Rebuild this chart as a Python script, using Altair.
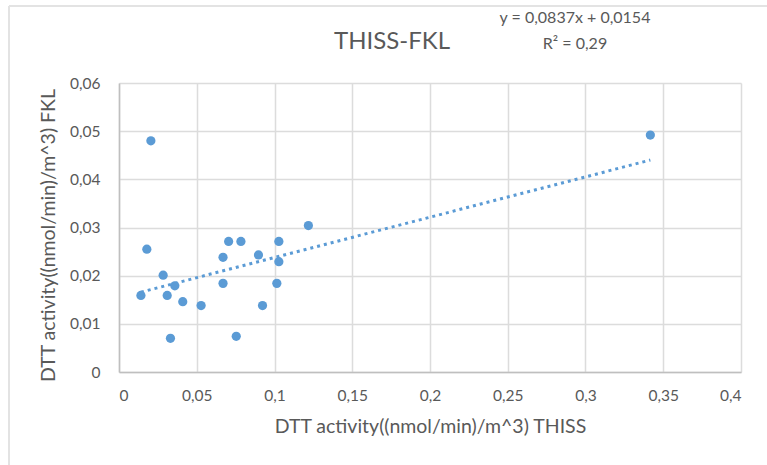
import altair as alt
import pandas as pd

thiss = [0.0205, 0.0179, 0.0284, 0.0359, 0.0141, 0.0310, 0.0410, 0.0528, 0.0331,
         0.0669, 0.0705, 0.0784, 0.0669, 0.0897, 0.1028, 0.1028, 0.1015, 0.0923,
         0.0754, 0.1218, 0.3417]
fkl = [0.0480, 0.0255, 0.0201, 0.0179, 0.0159, 0.0159, 0.0146, 0.0138, 0.0070,
       0.0238, 0.0271, 0.0271, 0.0184, 0.0243, 0.0271, 0.0229, 0.0184, 0.0138,
       0.0074, 0.0304, 0.0492]
slope = 0.0837
intercept = 0.0154
x_ticks = [0, 0.05, 0.1, 0.15, 0.2, 0.25, 0.3, 0.35, 0.4]
y_ticks = [0, 0.01, 0.02, 0.03, 0.04, 0.05, 0.06]

df = pd.DataFrame({"x": thiss, "y": fkl})
trend = pd.DataFrame({"x": [min(thiss), max(thiss)]})
trend["y"] = slope * trend["x"] + intercept

FONT = "Lato"
GREY = "#595959"
BLUE = "#5B9BD5"
lab = "replace(format(datum.value, '~g'), '.', ',')"

xs = alt.Scale(domain=[0, 0.4], nice=False, zero=False)
ys = alt.Scale(domain=[0, 0.06], nice=False, zero=False)

common = dict(grid=True, gridColor="#dcdcdc", gridWidth=1.5, domainColor="#bfbfbf",
              domainWidth=1.5, ticks=False, labelFont=FONT, labelFontSize=15.5,
              labelColor=GREY, titleFont=FONT, titleFontSize=19.5, titleColor=GREY,
              titleFontWeight="normal")
xax = alt.Axis(values=x_ticks, labelExpr=lab, title="DTT activity((nmol/min)/m^3) THISS",
               labelPadding=16, titlePadding=14, **common)
yax = alt.Axis(values=y_ticks, labelExpr=lab, title="DTT activity((nmol/min)/m^3) FKL",
               labelPadding=19, titlePadding=11, titleY=152, **common)

points = alt.Chart(df).mark_circle(size=85, color=BLUE, opacity=1).encode(
    x=alt.X("x:Q", scale=xs, axis=xax),
    y=alt.Y("y:Q", scale=ys, axis=yax),
)
line = alt.Chart(trend).mark_line(color=BLUE, strokeWidth=3, strokeDash=[3, 4]).encode(
    x=alt.X("x:Q", scale=xs), y=alt.Y("y:Q", scale=ys))

title = alt.Chart(pd.DataFrame({"t": ["THISS-FKL"]})).mark_text(
    font=FONT, fontSize=24, color=GREY, align="center", baseline="middle").encode(
    text="t:N", x=alt.value(273), y=alt.value(-41))
eq = alt.Chart(pd.DataFrame({"t": ["y = 0,0837x + 0,0154", "R² = 0,29"],
                             "yy": [-65, -39]})).mark_text(
    font=FONT, fontSize=16, color=GREY, align="center", baseline="middle").encode(
    text="t:N", x=alt.value(456), y=alt.Y("yy:Q", scale=None))

border_top = alt.Chart(pd.DataFrame({"a": [0]})).mark_rule(color="#e3e3e3", strokeWidth=2).encode(
    x=alt.value(-110), x2=alt.value(660), y=alt.value(-77))
border_left = alt.Chart(pd.DataFrame({"a": [0]})).mark_rule(color="#e3e3e3", strokeWidth=2).encode(
    x=alt.value(-110), y=alt.value(-77), y2=alt.value(400))

chart = alt.layer(border_top, border_left, line, points, title, eq).properties(
    width=622, height=289,
    autosize=alt.AutoSizeParams(type="none"),
    padding={"left": 119, "top": 83, "right": 26, "bottom": 93},
).configure_view(stroke=None)

chart.save("out.html", embed_options={"renderer": "svg", "actions": False})
